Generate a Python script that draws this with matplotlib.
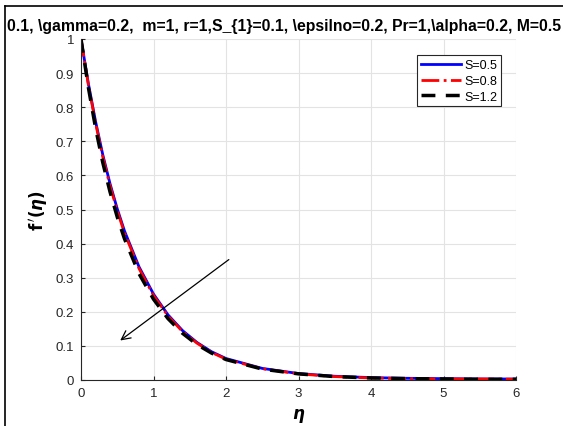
import matplotlib.pyplot as plt
from matplotlib.lines import Line2D

plt.rcParams['font.family'] = ['Liberation Sans', 'DejaVu Sans']
plt.rcParams['mathtext.fontset'] = 'dejavusans'

# eta grid and velocity profiles f'(eta)
eta = [0, 0.1, 0.2, 0.3, 0.4, 0.5, 0.6, 0.8, 1.0, 1.2, 1.4, 1.6, 1.8, 2.0,
       2.5, 3.0, 3.5, 4.0, 4.5, 5.0, 5.5, 6.0]
f_s05 = [1, 0.871, 0.759, 0.661, 0.576, 0.502, 0.437, 0.332, 0.252, 0.191, 0.145,
         0.110, 0.083, 0.063, 0.034, 0.019, 0.011, 0.007, 0.005, 0.004, 0.003, 0.003]
f_s08 = [1, 0.868, 0.754, 0.655, 0.570, 0.496, 0.431, 0.327, 0.248, 0.188, 0.142,
         0.108, 0.081, 0.061, 0.033, 0.018, 0.010, 0.006, 0.004, 0.003, 0.003, 0.002]
f_s12 = [1, 0.860, 0.740, 0.638, 0.552, 0.478, 0.414, 0.312, 0.237, 0.180, 0.137,
         0.104, 0.079, 0.060, 0.032, 0.018, 0.010, 0.006, 0.004, 0.003, 0.002, 0.002]

title = r"0.1, \gamma=0.2,  m=1, r=1,S_{1}=0.1, \epsilno=0.2, Pr=1,\alpha=0.2, M=0.5"

fig = plt.figure(figsize=(5.63, 4.27), dpi=100)
ax = fig.add_axes([81/563, 46/427, 435/563, 341/427])

ax.plot(eta, f_s05, color='blue', lw=2, label='S=0.5')
ax.plot(eta, f_s08, color='red', lw=2, ls='-.', label='S=0.8')
ax.plot(eta, f_s12, color='black', lw=2.5, ls=(0, (4, 3)), label='S=1.2')

# arrow showing increasing S
ax.annotate('', xy=(0.51, 0.111), xytext=(2.07, 0.358),
            arrowprops=dict(arrowstyle='->', color='black', lw=0.9, mutation_scale=16))

ax.set_xlim(0, 6)
ax.set_ylim(0, 1)
ax.set_xticks(range(0, 7))
ax.set_yticks([i / 10 for i in range(11)])
ax.set_yticklabels(['0', '0.1', '0.2', '0.3', '0.4', '0.5', '0.6', '0.7', '0.8', '0.9', '1'])
ax.grid(True, color='#e3e3e3', lw=0.8)
ax.set_axisbelow(True)
ax.tick_params(direction='in', length=3, labelsize=9.5, colors='#262626', pad=5)
for s in ['top', 'right']:
    ax.spines[s].set_visible(False)
for s in ['left', 'bottom']:
    ax.spines[s].set_color('#262626')
    ax.spines[s].set_linewidth(0.8)

ax.set_xlabel(r'$\boldsymbol{\eta}$', fontsize=12, labelpad=5)
ax.set_ylabel(r"$\mathbf{f}^{\,\prime}\mathbf{(}\boldsymbol{\eta}\mathbf{)}$", fontsize=12, labelpad=4)

leg = ax.legend(loc='upper right', bbox_to_anchor=(0.98, 0.97), fontsize=9,
                fancybox=False, edgecolor='#262626', framealpha=1,
                handlelength=3.2, borderpad=0.3, labelspacing=0.3, handletextpad=0.3)
leg.get_frame().set_linewidth(0.8)

fig.text(7/563, 1 - 27/427, title, fontsize=11.3, fontweight='bold', ha='left', va='center')

# figure border (top and left visible)
fig.add_artist(Line2D([5/563, 5/563], [0, 1 - 7/427], color='black', lw=1.2, transform=fig.transFigure))
fig.add_artist(Line2D([5/563, 1], [1 - 7/427, 1 - 7/427], color='black', lw=1.2, transform=fig.transFigure))

fig.savefig('out.png', dpi=100)
